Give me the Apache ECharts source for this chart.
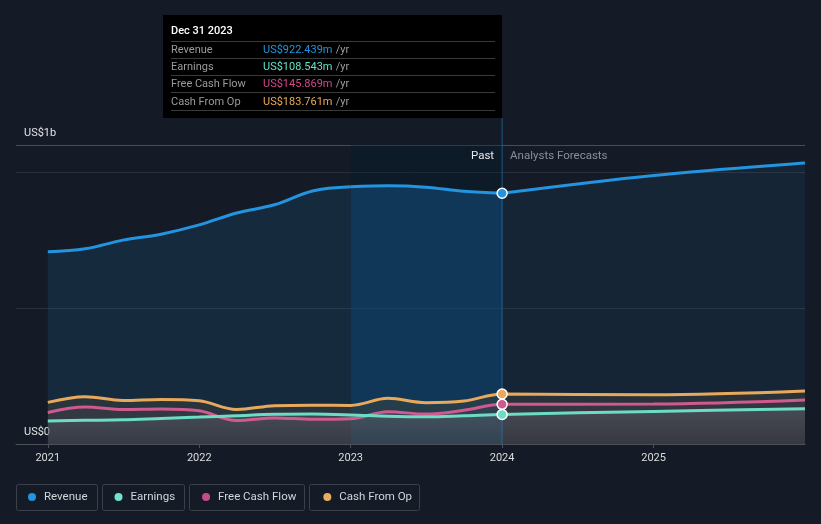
<!DOCTYPE html>
<html><head><meta charset="utf-8">
<script src="https://cdn.jsdelivr.net/npm/echarts@6/dist/echarts.min.js"></script>
<style>html,body{margin:0;padding:0;background:#151b26;}#c{width:821px;height:524px;}</style>
</head><body><div id="c"></div>
<script>
// ---- data ----
const pastDates = ['2020-12-31','2021-03-31','2021-06-30','2021-09-30','2021-12-31','2022-03-31','2022-06-30','2022-09-30','2022-12-31','2023-03-31','2023-06-30','2023-09-30','2023-12-31'];
const forecastDates = ['2023-12-31','2024-12-31','2025-12-31'];
const revenuePast = [707,718,750,772,806,850,880,931,946,950,945,930,922.439];
const revenueForecast = [922.439,988,1034];
const earningsPast = [85,87,89,94,99,104,109,110,107,102,100,104,108.543];
const earningsForecast = [108.543,120,130];
const fcfPast = [116,136,127,129,122,86,96,91,93,119,110,124,145.869];
const fcfForecast = [145.869,147,162];
const cfoPast = [153,174,160,164,159,127,141,143,142,168,152,158,183.761];
const cfoForecast = [183.761,181,195];
const seriesNames = ['Revenue','Earnings','Free Cash Flow','Cash From Op'];
const xTickValues = [2021,2022,2023,2024,2025];
const yTickValues = [0,1100];
const yTickLabels = ['US$0','US$1b'];
const tooltipTitle = 'Dec 31 2023';
const bandStartDate = '2022-12-31';
const bandEndDate = '2023-12-31';

// ---- helpers ----
function toYear(s){const [y,m,d]=s.split('-').map(Number);const st=Date.UTC(y,0,1),en=Date.UTC(y+1,0,1);return y+(Date.UTC(y,m-1,d)+86400000-st)/(en-st);}
function pairs(dates, vals){return dates.map((d,i)=>[toYear(d), vals[i]]);}
const colors = {rev:'#2394df', earn:'#6cdcc6', fcf:'#cf5a8f', cfo:'#e8a95c'};
const legendColors = ['#2394df','#6fe3d2','#c54c8a','#e8ad62'];
function marker(pt,color){return {value:pt, symbol:'circle', symbolSize:10, itemStyle:{color:color, borderColor:'#ffffff', borderWidth:1.5}};}
function joined(past, fut){return pairs(pastDates,past).concat(pairs(forecastDates,fut).slice(1));}
function withMarker(data, color){const idx=pastDates.length-1; data[idx]=marker(data[idx],color); return data;}

const iBand = pastDates.indexOf(bandStartDate);
const revA = pairs(pastDates,revenuePast).slice(0,iBand+1);
const revB = pairs(pastDates,revenuePast).slice(iBand);
const revC = pairs(forecastDates,revenueForecast);
revC[0] = marker(revC[0], colors.rev);

const lineBase = {type:'line', smooth:0.35, symbol:'none', showSymbol:true, silent:true};
const FONT = 'Roboto, "Noto Sans", sans-serif';

const chart = echarts.init(document.getElementById('c'), null, {renderer:'canvas'});
const option = {
  backgroundColor:'#151b26',
  animation:false,
  textStyle:{fontFamily:FONT},
  grid:{left:16, right:16, top:145, bottom:80},
  legend:{
    data:seriesNames.map((n,i)=>({name:n, itemStyle:{color:legendColors[i]}})),
    left:23, top:486, icon:'circle', itemWidth:8, itemHeight:8, itemGap:27,
    textStyle:{color:'#d2d5d9', fontSize:11.5, fontFamily:FONT, padding:[0,0,0,3]},
    selectedMode:false
  },
  xAxis:{type:'value', min:2020.79, max:2026,
    axisLine:{lineStyle:{color:'#4b5059'}},
    axisTick:{show:true, customValues:xTickValues, length:4, lineStyle:{color:'#4b5059'}},
    axisLabel:{customValues:xTickValues, formatter:v=>String(Math.round(v)), color:'#dcdcdc', fontSize:11, margin:9, fontFamily:FONT},
    splitLine:{show:false}},
  yAxis:{type:'value', min:0, max:1100, interval:500,
    axisLine:{show:false}, axisTick:{show:false},
    axisLabel:{inside:true, customValues:yTickValues, formatter:v=>yTickLabels[yTickValues.indexOf(v)]||'',
      verticalAlign:'bottom', align:'left', color:'#e2e2e2', fontSize:11, margin:8, padding:[0,0,6,0], fontFamily:FONT},
    splitLine:{lineStyle:{color:['#2a2f39','#2a2f39','#2a2f39','#474c55'], width:1}}},
  series:[
    {type:'line', data:[], silent:true, z:1,
      markArea:{silent:true, itemStyle:{color:'rgba(0,30,50,0.35)'}, data:[[{xAxis:toYear(bandStartDate)},{xAxis:toYear(bandEndDate)}]]}},
    Object.assign({}, lineBase, {name:'Revenue', data:revA, lineStyle:{color:colors.rev, width:3}, itemStyle:{color:colors.rev}, areaStyle:{color:'rgba(30,140,220,0.19)'}}),
    Object.assign({}, lineBase, {name:'Revenue', data:revB, lineStyle:{color:colors.rev, width:3}, itemStyle:{color:colors.rev}, areaStyle:{color:'rgba(25,130,210,0.40)'}}),
    Object.assign({}, lineBase, {name:'Revenue', data:revC, lineStyle:{color:colors.rev, width:3}, itemStyle:{color:colors.rev}, areaStyle:{color:'rgba(30,140,220,0.13)'}}),
    Object.assign({}, lineBase, {name:'Cash From Op', data:withMarker(joined(cfoPast,cfoForecast),colors.cfo), lineStyle:{color:colors.cfo, width:3}, itemStyle:{color:colors.cfo}, areaStyle:{color:'rgba(70,70,62,0.6)'}}),
    Object.assign({}, lineBase, {name:'Free Cash Flow', data:withMarker(joined(fcfPast,fcfForecast),colors.fcf), lineStyle:{color:colors.fcf, width:3}, itemStyle:{color:colors.fcf}, areaStyle:{color:'rgba(130,85,115,0.16)'}}),
    Object.assign({}, lineBase, {name:'Earnings', data:withMarker(joined(earningsPast,earningsForecast),colors.earn), lineStyle:{color:colors.earn, width:3}, itemStyle:{color:colors.earn},
      areaStyle:{color:new echarts.graphic.LinearGradient(0,0,0,1,[{offset:0,color:'rgba(150,152,158,0.30)'},{offset:1,color:'rgba(150,152,158,0.04)'}])}})
  ]
};
chart.setOption(option);

// ---- overlays (tooltip, past/forecast labels, legend boxes) ----
const px = chart.convertToPixel({xAxisIndex:0}, toYear(bandEndDate));
const gridTop = chart.convertToPixel({yAxisIndex:0}, 1100);
const gridBottom = chart.convertToPixel({yAxisIndex:0}, 0);
const last = pastDates.length-1;
function fmt(v){return 'US$'+v.toFixed(3)+'m';}
const rows = [
  [seriesNames[0], revenuePast[last], '#2394df'],
  [seriesNames[1], earningsPast[last], '#5fe3c9'],
  [seriesNames[2], fcfPast[last], '#d2488c'],
  [seriesNames[3], cfoPast[last], '#eaaa55']
];
const tipLeft = 163, tipTop = 15, tipBottom = 118;
const g = [];
g.push({type:'rect', shape:{x:tipLeft, y:tipTop, width:px-tipLeft, height:tipBottom-tipTop}, style:{fill:'#000000'}, z:10});
g.push({type:'line', shape:{x1:px, y1:tipBottom, x2:px, y2:gridBottom}, style:{stroke:'rgba(35,130,200,0.6)', lineWidth:1}, z:3, silent:true});
g.push({type:'text', x:tipLeft+8, y:31, style:{text:tooltipTitle, fill:'#ffffff', font:'500 11px '+FONT, verticalAlign:'middle'}, z:11});
const sepY = [41.5, 58.5, 75.5, 92.5, 110.5];
sepY.forEach(y=>g.push({type:'line', shape:{x1:tipLeft+8, y1:y, x2:px-7, y2:y}, style:{stroke:'#3a3a3a', lineWidth:1}, z:11}));
rows.forEach((r,i)=>{
  const y = 50 + i*17.3;
  g.push({type:'text', x:tipLeft+8, y:y, style:{text:r[0], fill:'#9b9b9b', font:'11px '+FONT, verticalAlign:'middle'}, z:11});
  g.push({type:'text', x:263, y:y, style:{text:'{v|'+fmt(r[1])+'} {u|/yr}', verticalAlign:'middle',
    rich:{v:{fill:r[2], font:'11px '+FONT}, u:{fill:'#9b9b9b', font:'11px '+FONT}}}, z:11});
});
g.push({type:'text', x:px-8, y:gridTop+11, style:{text:'Past', fill:'#e8e8e8', font:'11.5px '+FONT, align:'right', verticalAlign:'middle'}, z:5});
g.push({type:'text', x:px+8, y:gridTop+11, style:{text:'Analysts Forecasts', fill:'#8a8f97', font:'11.5px '+FONT, align:'left', verticalAlign:'middle'}, z:5});
const boxes = [[16.5,97.5],[102.5,184.5],[189.5,304.5],[309.5,419.5]];
boxes.forEach(b=>g.push({type:'rect', shape:{x:b[0], y:484.5, width:b[1]-b[0], height:26, r:2}, style:{fill:'none', stroke:'#3b404a', lineWidth:1}, z:0, silent:true}));
chart.setOption({graphic:g});
</script>
</body></html>
